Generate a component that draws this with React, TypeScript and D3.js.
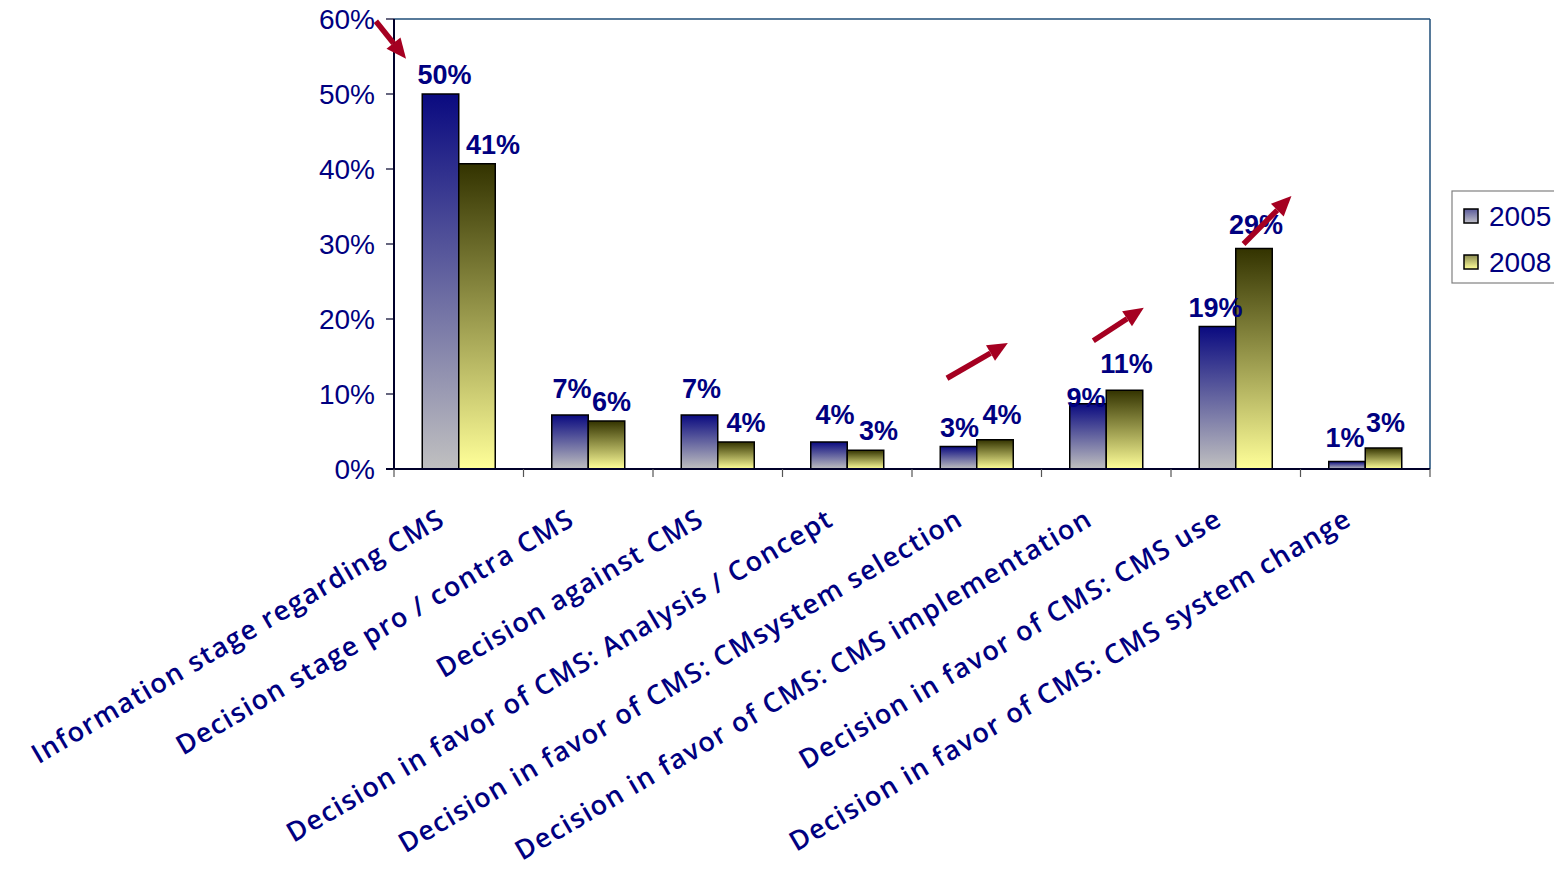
import React from "react";
import * as d3 from "d3";

const categories = [
  "Information stage regarding CMS",
  "Decision stage pro / contra CMS",
  "Decision against CMS",
  "Decision in favor of CMS: Analysis / Concept",
  "Decision in favor of CMS: CMsystem selection",
  "Decision in favor of CMS: CMS implementation",
  "Decision in favor of CMS: CMS use",
  "Decision in favor of CMS: CMS system change",
];
const seriesNames = ["2005", "2008"];
const values2005 = [50, 7.2, 7.2, 3.6, 3.0, 8.7, 19.0, 1.0];
const values2008 = [40.7, 6.4, 3.6, 2.5, 3.9, 10.5, 29.4, 2.8];
const labels2005 = ["50%", "7%", "7%", "4%", "3%", "9%", "19%", "1%"];
const labels2008 = ["41%", "6%", "4%", "3%", "4%", "11%", "29%", "3%"];
const yTicks = [0, 10, 20, 30, 40, 50, 60];
// annotation arrows in data space: [categoryPos, value] tail -> tip
const arrows = [
  { from: [-0.14, 59.7], to: [0.093, 54.7] },
  { from: [4.27, 12.1], to: [4.74, 16.8] },
  { from: [5.4, 17.1], to: [5.79, 21.5] },
  { from: [6.56, 30.0], to: [6.93, 36.4] },
];

// layout nudges for data labels (dx, dy relative to default position)
const nudge2005 = [[4, 0], [2, -7], [2, -7], [6, -8], [1, 0], [-2, 13], [-2, 0], [-2, -5]];
const nudge2008 = [[16, 0], [5, 0], [10, 0], [13, 0], [7, -6], [2, -7], [2, -5], [2, -6]];

const W = 1554;
const H = 869;
const left = 394;
const right = 1430;
const top = 19;
const bottom = 469;

export default function App() {
  const x = d3.scaleBand<number>().domain(d3.range(categories.length)).range([left, right]).paddingInner(0).paddingOuter(0);
  const bw = x.bandwidth();
  const y = d3.scaleLinear().domain([0, 60]).range([bottom, top]);
  const barW = 36.5;
  const cx = (i: number) => (x(i) as number) + bw / 2;
  const fx = (f: number) => left + bw * f;
  const navy = "#000080";
  const arrowColor = "#A50021";
  const series = [
    { vals: values2005, labels: labels2005, grad: "g2005", off: -barW, nudge: nudge2005 },
    { vals: values2008, labels: labels2008, grad: "g2008", off: 0, nudge: nudge2008 },
  ];

  return (
    <svg width={W} height={H} style={{ position: "absolute", left: 0, top: 0, background: "#fff" }}>
      <defs>
        <linearGradient id="g2005" x1="0" y1="0" x2="0" y2="1">
          <stop offset="0" stopColor="#0A0A80" />
          <stop offset="1" stopColor="#C0C0C0" />
        </linearGradient>
        <linearGradient id="g2008" x1="0" y1="0" x2="0" y2="1">
          <stop offset="0" stopColor="#333300" />
          <stop offset="1" stopColor="#FFFF99" />
        </linearGradient>
        <linearGradient id="l2005" x1="0" y1="0" x2="0" y2="1">
          <stop offset="0" stopColor="#5A5A9A" />
          <stop offset="1" stopColor="#C0C0C8" />
        </linearGradient>
        <linearGradient id="l2008" x1="0" y1="0" x2="0" y2="1">
          <stop offset="0" stopColor="#8A8A50" />
          <stop offset="1" stopColor="#FFFF99" />
        </linearGradient>
      </defs>

      {/* plot frame top/right */}
      <line x1={left} x2={right} y1={top} y2={top} stroke="#1F4E79" strokeWidth={1.5} />
      <line x1={right} x2={right} y1={top} y2={bottom} stroke="#1F4E79" strokeWidth={1.5} />

      {/* bars */}
      {series.map((s, si) =>
        s.vals.map((v, i) => (
          <rect
            key={`b${si}-${i}`}
            x={cx(i) + s.off}
            y={y(v)}
            width={barW}
            height={bottom - y(v)}
            fill={`url(#${s.grad})`}
            stroke="#000"
            strokeWidth={1.5}
          />
        ))
      )}

      {/* y axis */}
      <line x1={left} x2={left} y1={top} y2={bottom} stroke="#00002A" strokeWidth={2} />
      {yTicks.map((t) => (
        <g key={`yt${t}`}>
          <line x1={left - 8} x2={left} y1={y(t)} y2={y(t)} stroke="#00002A" strokeWidth={1.2} />
          <text x={375} y={y(t)} dy="0.36em" textAnchor="end" fontFamily="Liberation Sans, Arial, sans-serif" fontSize={28} fill={navy}>
            {t}%
          </text>
        </g>
      ))}

      {/* x axis */}
      <line x1={left - 8} x2={right} y1={bottom} y2={bottom} stroke="#00002A" strokeWidth={2} />
      {d3.range(categories.length + 1).map((i) => (
        <line key={`xt${i}`} x1={left + bw * i} x2={left + bw * i} y1={bottom} y2={bottom + 8} stroke="#555" strokeWidth={1.2} />
      ))}

      {/* category labels */}
      {categories.map((c, i) => (
        <text
          key={`c${i}`}
          transform={`translate(${cx(i) - 12},${524}) rotate(-30.5)`}
          textAnchor="end"
          fontFamily="Open Sans, sans-serif"
          fontWeight={600}
          fontSize={27}
          letterSpacing={1.4}
          fill={navy}
        >
          {c}
        </text>
      ))}

      {/* data labels */}
      {series.map((s, si) =>
        s.vals.map((v, i) => (
          <text
            key={`l${si}-${i}`}
            x={cx(i) + s.off + barW / 2 + s.nudge[i][0]}
            y={y(v) - 10 + s.nudge[i][1]}
            textAnchor="middle"
            fontFamily="Liberation Sans, Arial, sans-serif"
            fontWeight="bold"
            fontSize={27}
            fill={navy}
          >
            {s.labels[i]}
          </text>
        ))
      )}

      {/* arrows */}
      {arrows.map((a, k) => {
        const x1 = fx(a.from[0]);
        const y1 = y(a.from[1]);
        const x2 = fx(a.to[0]);
        const y2 = y(a.to[1]);
        const ang = Math.atan2(y2 - y1, x2 - x1);
        const hl = 20;
        const hw = 9;
        const bx = x2 - hl * Math.cos(ang);
        const by = y2 - hl * Math.sin(ang);
        const px = -Math.sin(ang);
        const py = Math.cos(ang);
        const pts = [
          [x2, y2],
          [bx + px * hw, by + py * hw],
          [bx - px * hw, by - py * hw],
        ];
        return (
          <g key={`a${k}`}>
            <line x1={x1} y1={y1} x2={bx} y2={by} stroke={arrowColor} strokeWidth={5.5} />
            <polygon points={pts.map((p) => p.join(",")).join(" ")} fill={arrowColor} />
          </g>
        );
      })}

      {/* legend */}
      <rect x={1452} y={191} width={130} height={92} fill="#fff" stroke="#808080" strokeWidth={1.2} />
      {seriesNames.map((n, i) => (
        <g key={`lg${i}`}>
          <rect x={1464} y={209 + i * 46} width={14} height={14} fill={`url(#l${n})`} stroke="#000" strokeWidth={1.5} />
          <text x={1489} y={216 + i * 46} dy="0.36em" fontFamily="Liberation Sans, Arial, sans-serif" fontSize={28} fill={navy}>
            {n}
          </text>
        </g>
      ))}
    </svg>
  );
}
